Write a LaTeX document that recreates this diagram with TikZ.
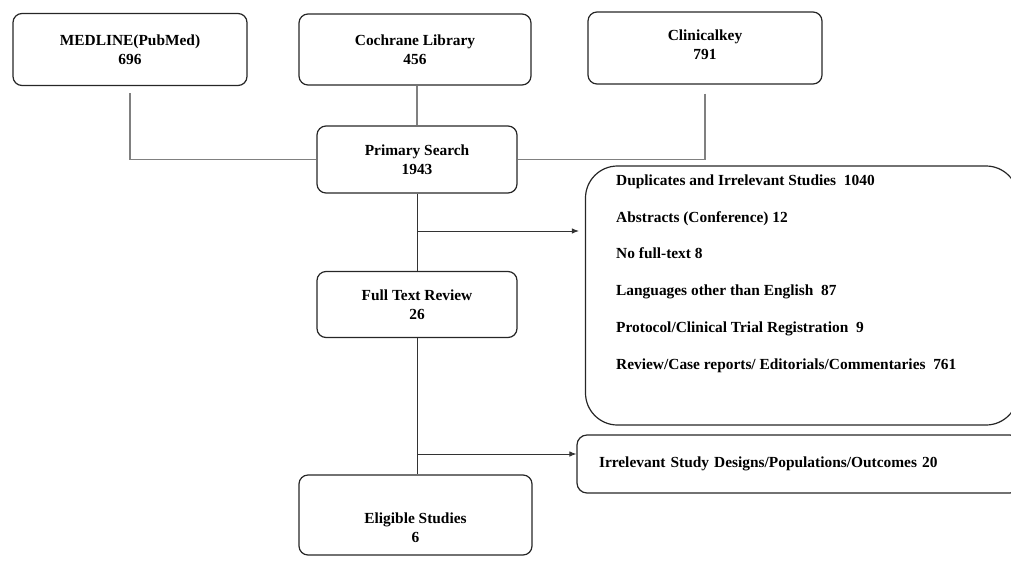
\documentclass[tikz,border=0pt]{standalone}
\usepackage{fontspec}
\setmainfont{Liberation Serif}
\usetikzlibrary{arrows.meta,calc}
\begin{document}
\begin{tikzpicture}[x=1pt,y=-1pt,
  tfont/.style={font=\fontsize{15.4}{19}\selectfont\bfseries},
  box/.style={draw=black!85, line width=1.2pt, rounded corners=9pt, inner sep=0pt, align=center, tfont},
  txt/.style={align=center, inner sep=0pt, tfont},
  ltxt/.style={anchor=base west, inner sep=0pt, tfont},
  link/.style={draw=black!50, line width=1.1pt},
  flow/.style={draw=black!80, line width=0.9pt},
  arr/.style={flow, -{Latex[length=7pt,width=5.5pt]}}]
\useasboundingbox (0,0) rectangle (1011,560);

\node[box, minimum width=234pt, minimum height=72pt] (med) at (130,49.5) {MEDLINE(PubMed)\\696};
\node[box, minimum width=232pt, minimum height=71pt] (coch) at (415,49.5) {Cochrane Library\\456};
\node[box, minimum width=234pt, minimum height=72pt] (clin) at (705,48) {};
\node[txt] (clint) at (705,45) {Clinicalkey\\791};

\node[box, minimum width=200pt, minimum height=67pt] (prim) at (417,159.5) {Primary Search\\1943};
\node[box, minimum width=200pt, minimum height=66pt] (full) at (417,304.5) {Full Text Review\\26};
\node[box, minimum width=233pt, minimum height=80pt] (elig) at (415.5,515) {};
\node[txt] (eligt) at (415.5,528) {Eligible Studies\\6};

\node[box, rounded corners=32pt, minimum width=432.5pt, minimum height=259pt] (ex1) at (801.75,295.5) {};
\node[ltxt] (r1) at (616,185.5) {Duplicates and Irrelevant Studies\ \ 1040};
\node[ltxt] (r2) at (616,222.2) {Abstracts (Conference) 12};
\node[ltxt] (r3) at (616,258.9) {No full-text 8};
\node[ltxt] (r4) at (616,295.6) {Languages other than English\ \ 87};
\node[ltxt] (r5) at (616,332.3) {Protocol/Clinical Trial Registration\ \ 9};
\node[ltxt] (r6) at (616,369) {Review/Case reports/ Editorials/Commentaries\ \ 761};

\node[box, rounded corners=10pt, minimum width=443pt, minimum height=58pt, align=left, text width=399pt] (ex2) at (798.5,464) {Irrelevant Study Designs/Populations/Outcomes 20};

\draw[link, shorten <=7pt] (med.south) |- (prim.west);
\draw[link, shorten <=9pt] (clin.south) |- (prim.east);
\draw[link] (coch.south -| prim.north) -- (prim.north);
\draw[flow] (prim.south) -- (full.north);
\draw[flow] (full.south) -- (full.south |- elig.north);
\coordinate (j1) at (417,231);
\coordinate (j2) at (417,454);
\draw[arr, shorten >=6pt] (j1) -- (j1 -| ex1.west);
\draw[arr] (j2) -- (j2 -| ex2.west);
\end{tikzpicture}
\end{document}
